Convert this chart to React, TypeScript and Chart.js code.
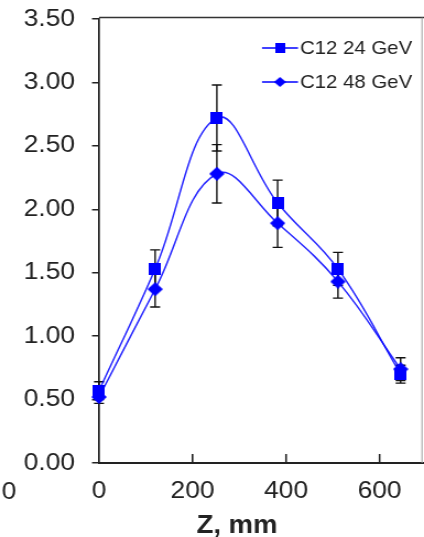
import React, { useEffect, useRef } from 'react';
import { Chart, registerables } from 'chart.js';

Chart.register(...registerables);

// ---------- data ----------
const zPositions = [0, 120, 252, 382, 511, 645];
const series24Label = 'C12 24 GeV';
const series24 = [0.57, 1.53, 2.72, 2.05, 1.53, 0.70];
const series24Err = [0.07, 0.15, 0.26, 0.18, 0.13, 0.07];
const series48Label = 'C12 48 GeV';
const series48 = [0.52, 1.37, 2.28, 1.89, 1.43, 0.74];
const series48Err = [0.05, 0.14, 0.23, 0.19, 0.13, 0.09];
const xTickValues = [0, 200, 400, 600];
const yTickValues = [0, 0.5, 1, 1.5, 2, 2.5, 3, 3.5];
const xTitle = 'Z, mm';
const strayLabel = '0';

// ---------- layout / style ----------
const REAL_W = 424;
const REAL_H = 537;
const INNER_W = 385;
const S = REAL_W / INNER_W; // horizontal stretch of the original picture
const BLUE = '#0000ff';
const INK = '#222222';
const FONT = '"Liberation Sans", Arial, sans-serif';
const PLOT_TOP = 19;
const PLOT_BOTTOM = 463;

function rx(realX: number) {
  return realX / S;
}

function makeMarker(kind: 'square' | 'diamond', wReal: number, hReal: number) {
  const w = Math.max(2, Math.round(wReal / S));
  const h = Math.round(hReal);
  const c = document.createElement('canvas');
  c.width = w;
  c.height = h;
  const g = c.getContext('2d')!;
  g.fillStyle = BLUE;
  if (kind === 'square') {
    g.fillRect(0, 0, w, h);
  } else {
    g.beginPath();
    g.moveTo(w / 2, 0);
    g.lineTo(w, h / 2);
    g.lineTo(w / 2, h);
    g.lineTo(0, h / 2);
    g.closePath();
    g.fill();
  }
  return c;
}

export default function App() {
  const ref = useRef<HTMLCanvasElement | null>(null);

  useEffect(() => {
    const canvas = ref.current;
    if (!canvas) return;

    const squareMarker = makeMarker('square', 12, 12);
    const diamondMarker = makeMarker('diamond', 15, 14);
    const squareLegend = makeMarker('square', 10, 10);
    const diamondLegend = makeMarker('diamond', 12, 10);

    const errorBars = {
      id: 'errorBars',
      beforeDatasetsDraw(chart: any) {
        const ctx = chart.ctx;
        const xs = chart.scales.x;
        const ys = chart.scales.y;
        const cap = rx(5);
        ctx.save();
        ctx.strokeStyle = '#111';
        ctx.lineWidth = 1.4;
        const sets: [number[], number[]][] = [
          [series24, series24Err],
          [series48, series48Err],
        ];
        sets.forEach(([vals, errs]) => {
          vals.forEach((v, i) => {
            const px = xs.getPixelForValue(zPositions[i]);
            const top = ys.getPixelForValue(v + errs[i]);
            const bot = ys.getPixelForValue(v - errs[i]);
            ctx.beginPath();
            ctx.moveTo(px, top);
            ctx.lineTo(px, bot);
            ctx.moveTo(px - cap, top);
            ctx.lineTo(px + cap, top);
            ctx.moveTo(px - cap, bot);
            ctx.lineTo(px + cap, bot);
            ctx.stroke();
          });
        });
        ctx.restore();
      },
    };

    const decorations = {
      id: 'decorations',
      afterDraw(chart: any) {
        const ctx = chart.ctx;
        const area = chart.chartArea;
        const xs = chart.scales.x;
        ctx.save();
        // inward tick marks on x axis
        ctx.strokeStyle = INK;
        ctx.lineWidth = 1.6;
        xTickValues.forEach((v) => {
          if (v === 0) return;
          const px = xs.getPixelForValue(v);
          ctx.beginPath();
          ctx.moveTo(px, area.bottom);
          ctx.lineTo(px, area.bottom - 9);
          ctx.stroke();
        });
        // frame: top and right
        ctx.strokeStyle = '#333';
        ctx.lineWidth = 1.6;
        ctx.beginPath();
        ctx.moveTo(area.left, 17.5);
        ctx.lineTo(INNER_W, 17.5);
        ctx.stroke();
        ctx.strokeStyle = '#9a9a9a';
        ctx.lineWidth = 1;
        ctx.beginPath();
        ctx.moveTo(rx(422), 17.5);
        ctx.lineTo(rx(422), area.bottom);
        ctx.stroke();

        // legend
        const rows: [string, HTMLCanvasElement, number][] = [
          [series24Label, squareLegend, 48],
          [series48Label, diamondLegend, 82],
        ];
        rows.forEach(([label, marker, y]) => {
          ctx.strokeStyle = BLUE;
          ctx.lineWidth = 1.5;
          ctx.beginPath();
          ctx.moveTo(rx(262), y);
          ctx.lineTo(rx(298), y);
          ctx.stroke();
          ctx.drawImage(marker, rx(280) - marker.width / 2, y - marker.height / 2);
          ctx.fillStyle = INK;
          ctx.font = `18.5px ${FONT}`;
          ctx.textAlign = 'left';
          ctx.textBaseline = 'middle';
          ctx.fillText(label, rx(300), y + 1);
        });

        // axis title
        ctx.fillStyle = INK;
        ctx.font = `bold 25px ${FONT}`;
        ctx.textAlign = 'center';
        ctx.textBaseline = 'alphabetic';
        ctx.fillText(xTitle, rx(237), 533);

        // stray label at left
        ctx.font = `24px ${FONT}`;
        ctx.textBaseline = 'middle';
        ctx.fillText(strayLabel, rx(9), 492);
        ctx.restore();
      },
    };

    const chart = new Chart(canvas, {
      type: 'line',
      data: {
        datasets: [
          {
            label: series24Label,
            data: zPositions.map((z, i) => ({ x: z, y: series24[i] })),
            borderColor: 'rgba(0,0,255,0.85)',
            backgroundColor: BLUE,
            borderWidth: 1.5,
            tension: 0.4,
            pointStyle: squareMarker as any,
            pointRadius: 6,
            clip: false as any,
          },
          {
            label: series48Label,
            data: zPositions.map((z, i) => ({ x: z, y: series48[i] })),
            borderColor: 'rgba(0,0,255,0.85)',
            backgroundColor: BLUE,
            borderWidth: 1.5,
            tension: 0.4,
            pointStyle: diamondMarker as any,
            pointRadius: 6,
            clip: false as any,
          },
        ],
      },
      options: {
        responsive: false,
        maintainAspectRatio: false,
        animation: false,
        devicePixelRatio: 1,
        events: [],
        layout: { autoPadding: false, padding: { top: 0, left: 0, right: 0, bottom: 0 } },
        plugins: {
          legend: { display: false },
          tooltip: { enabled: false },
        },
        scales: {
          x: {
            type: 'linear',
            min: 0,
            max: 695,
            afterBuildTicks: (s: any) => {
              s.ticks = xTickValues.map((v) => ({ value: v }));
            },
            afterFit: (s: any) => {
              s.height = REAL_H - PLOT_BOTTOM;
            },
            grid: { display: true, drawOnChartArea: false, drawTicks: false, color: INK },
            border: { display: true, color: INK, width: 2 },
            ticks: {
              color: INK,
              padding: 14,
              font: { size: 24, family: FONT },
              maxRotation: 0,
              autoSkip: false,
            },
          },
          y: {
            type: 'linear',
            min: 0,
            max: 3.5,
            afterBuildTicks: (s: any) => {
              s.ticks = yTickValues.map((v) => ({ value: v }));
            },
            afterFit: (s: any) => {
              s.width = rx(99);
              s.paddingTop = 0;
              s.paddingBottom = 0;
            },
            grid: {
              display: true,
              drawOnChartArea: false,
              drawTicks: true,
              tickLength: rx(7),
              color: INK,
              lineWidth: 1.5,
            },
            border: { display: true, color: INK, width: 1.7 },
            ticks: {
              color: INK,
              padding: rx(99) - rx(75) - rx(7),
              font: { size: 24, family: FONT },
              callback: (v: any) => Number(v).toFixed(2),
            },
          },
        },
      },
      plugins: [
        {
          id: 'plotTop',
          beforeLayout(chart: any) {
            chart.options.layout.padding = { top: PLOT_TOP, left: 0, right: 0, bottom: 0 };
          },
          afterLayout(chart: any) {
            // keep the plot area exactly where the reference has it
            const a = chart.chartArea;
            if (Math.abs(a.top - PLOT_TOP) > 0.5) {
              const ys = chart.scales.y;
              ys.top = PLOT_TOP;
              ys.height = ys.bottom - PLOT_TOP;
              a.top = PLOT_TOP;
              a.height = a.bottom - a.top;
              ys.configure();
            }
          },
        },
        errorBars,
        decorations,
      ],
    });

    return () => {
      chart.destroy();
    };
  }, []);

  return (
    <div style={{ position: 'absolute', left: 0, top: 0, width: REAL_W, height: REAL_H, background: '#fff' }}>
      <canvas
        ref={ref}
        width={INNER_W}
        height={REAL_H}
        style={{ width: `${REAL_W}px`, height: `${REAL_H}px`, display: 'block' }}
      />
    </div>
  );
}
